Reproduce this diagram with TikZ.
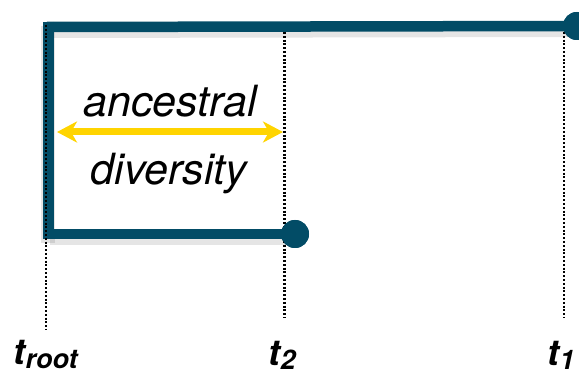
\documentclass[tikz,border=0pt]{standalone}
\usepackage{fontspec}
\setmainfont{TeX Gyre Heros}
\usetikzlibrary{arrows.meta}
\definecolor{treeblue}{RGB}{2,76,102}
\definecolor{gold}{RGB}{255,212,0}
\newcommand{\lowsub}[1]{\kern0.5pt\raisebox{-4pt}{\fontsize{27}{30}\selectfont #1}}
\begin{document}
\begin{tikzpicture}[x=1pt,y=-1pt,
  branch/.style={draw=treeblue,line width=10.5pt},
  shadowline/.style={draw=black,opacity=0.10,line width=14pt},
  tipdot/.style={circle,fill=treeblue,minimum size=28pt,inner sep=0pt},
  timeline/.style={draw=black,line width=2.2pt,dash pattern=on 2pt off 1.8pt},
  word/.style={font=\fontsize{43}{50}\selectfont\itshape,anchor=base,inner sep=0pt},
  timelabel/.style={font=\fontsize{36}{40}\selectfont\bfseries\itshape,anchor=base west,inner sep=0pt}]
\useasboundingbox (0,0) rectangle (579,374);
% coordinates
\coordinate (vtop) at (48.5,22);
\coordinate (vbot) at (48.5,239);
\coordinate (ttop) at (47,27);
\coordinate (btop) at (48,234);
\node[tipdot] (d1) at (577,26) {};
\node[tipdot] (d2) at (295,234) {};
% dotted time lines (behind)
\coordinate (r1) at (46,25); \coordinate (r2) at (46,330);
\coordinate (a1) at (284.5,32); \coordinate (a2) at (284.5,318);
\coordinate (b1) at (564,32); \coordinate (b2) at (564,318);
\draw[timeline] (a1) -- (a2);
\draw[timeline] (b1) -- (b2);
% shadows
\draw[shadowline] ([shift={(2,4)}]ttop) -- ([shift={(2,4)}]d1.center);
\draw[shadowline] ([shift={(2,4)}]btop) -- ([shift={(2,4)}]d2.center);
\draw[shadowline] ([shift={(-1,4)}]vtop) -- ([shift={(-1,4)}]vbot);
% tree
\draw[branch] (vtop) -- (vbot);
\draw[branch] (ttop) -- (d1.center);
\draw[branch] (btop) -- (d2.center);
\node[tipdot] at (d1) {};
\node[tipdot] at (d2) {};
\draw[timeline] (r1) -- (r2);
% arrow
\coordinate (al) at (57,132);
\coordinate (ar) at (283,132);
\draw[gold,line width=7pt,{Stealth[length=20pt,width=21pt,inset=6pt]}-{Stealth[length=20pt,width=21pt,inset=6pt]}] (al) -- (ar);
% text
\node[word] (anc) at (170,117) {ancestral};
\node[word] (div) at (169,185) {diversity};
% labels
\node[timelabel] (lroot) at (13,365) {t\lowsub{root}};
\node[timelabel] (l2) at (268,366) {t\lowsub{2}};
\node[timelabel] (l1) at (547,366) {t\lowsub{1}};
\end{tikzpicture}
\end{document}
